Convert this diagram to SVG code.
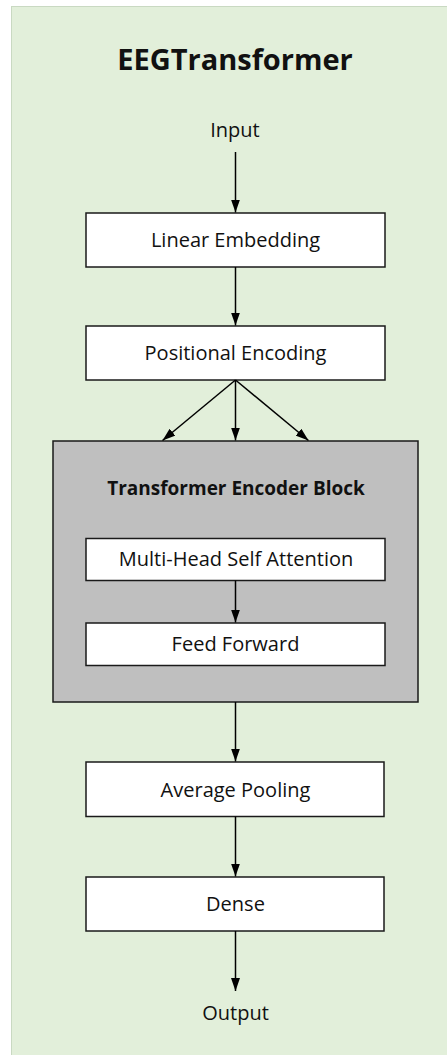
<svg xmlns="http://www.w3.org/2000/svg" width="447" height="1055" viewBox="0 0 447 1055">
<defs>
<marker id="arr" markerUnits="userSpaceOnUse" markerWidth="9" markerHeight="13" viewBox="0 0 9 13" refX="9" refY="4.5" orient="auto">
<path d="M0,0 L13,4.5 L0,9 Z" fill="#000"/>
</marker>
<marker id="ah" markerUnits="userSpaceOnUse" markerWidth="13" markerHeight="9" viewBox="0 0 13 9" refX="13" refY="4.5" orient="auto">
<path d="M0,0 L13,4.5 L0,9 Z" fill="#000"/>
</marker>
</defs>
<style>
.box{fill:#ffffff;stroke:#1a1a1a;stroke-width:1.5}
.blk{fill:#bfbfbf;stroke:#1a1a1a;stroke-width:1.5}
.t{font-family:"Open Sans","Liberation Sans",sans-serif;font-size:20px;fill:#111;text-anchor:middle}
.b{font-family:"Open Sans","Liberation Sans",sans-serif;font-weight:bold;fill:#111;text-anchor:middle}
.c{stroke:#000;stroke-width:1.5;fill:none;marker-end:url(#ah)}
</style>
<rect id="panel" x="11.5" y="6.5" width="440" height="1053" fill="#e2efda" stroke="#c9d9c2" stroke-width="1"/>
<g id="title"><text class="b" x="235" y="70" font-size="29">EEGTransformer</text></g>
<g id="input"><text class="t" x="235" y="137">Input</text></g>
<g id="linear-embedding"><rect class="box" x="86" y="213" width="299" height="54"/><text class="t" x="235.5" y="247">Linear Embedding</text></g>
<g id="positional-encoding"><rect class="box" x="86" y="326" width="299" height="54"/><text class="t" x="235.5" y="360">Positional Encoding</text></g>
<g id="encoder-block"><rect class="blk" x="53" y="441" width="365" height="261"/><text class="b" x="236" y="495" font-size="19">Transformer Encoder Block</text></g>
<g id="mhsa"><rect class="box" x="86" y="538.5" width="299" height="42"/><text class="t" x="236" y="566">Multi-Head Self Attention</text></g>
<g id="feed-forward"><rect class="box" x="86" y="623" width="299" height="42.5"/><text class="t" x="235.5" y="651">Feed Forward</text></g>
<g id="average-pooling"><rect class="box" x="86" y="762" width="298" height="54.5"/><text class="t" x="235.5" y="797">Average Pooling</text></g>
<g id="dense"><rect class="box" x="86" y="877" width="298" height="54"/><text class="t" x="235.5" y="911">Dense</text></g>
<g id="output"><text class="t" x="235.5" y="1020">Output</text></g>
<g id="connectors">
<line class="c" x1="235.5" y1="152" x2="235.5" y2="212.5"/>
<line class="c" x1="235.5" y1="267" x2="235.5" y2="325.5"/>
<line class="c" x1="235.5" y1="380" x2="235.5" y2="440.5"/>
<line class="c" x1="235.5" y1="380" x2="162.5" y2="440.5"/>
<line class="c" x1="235.5" y1="380" x2="308.5" y2="440.5"/>
<line class="c" x1="235.5" y1="580.5" x2="235.5" y2="622.5"/>
<line class="c" x1="235.5" y1="702" x2="235.5" y2="761.5"/>
<line class="c" x1="235.5" y1="816.5" x2="235.5" y2="876.5"/>
<line class="c" x1="235.5" y1="931" x2="235.5" y2="991"/>
</g>
</svg>
